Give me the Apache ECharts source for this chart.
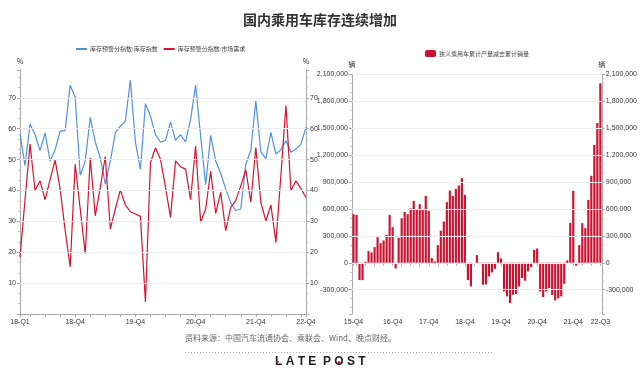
<!DOCTYPE html>
<html><head><meta charset="utf-8">
<script src="https://cdn.jsdelivr.net/npm/echarts@6/dist/echarts.min.js"></script>
<style>html,body{margin:0;padding:0;background:#fff}#c{width:640px;height:369px}</style>
</head><body><div id="c"></div>
<script>
// ---- Left chart data (monthly, 2018-01 .. 2022-10) ----
const leftMonths = [
 '2018-01','2018-02','2018-03','2018-04','2018-05','2018-06','2018-07','2018-08','2018-09','2018-10','2018-11','2018-12',
 '2019-01','2019-02','2019-03','2019-04','2019-05','2019-06','2019-07','2019-08','2019-09','2019-10','2019-11','2019-12',
 '2020-01','2020-02','2020-03','2020-04','2020-05','2020-06','2020-07','2020-08','2020-09','2020-10','2020-11','2020-12',
 '2021-01','2021-02','2021-03','2021-04','2021-05','2021-06','2021-07','2021-08','2021-09','2021-10','2021-11','2021-12',
 '2022-01','2022-02','2022-03','2022-04','2022-05','2022-06','2022-07','2022-08','2022-09','2022-10'];
const inventoryIndex = [
 58.4,48.0,61.4,58.1,52.9,58.6,49.5,53.2,59.2,59.4,74.1,70.2,
 44.9,49.5,63.7,55.7,50.5,42.1,49.5,58.6,60.8,62.4,75.7,55.7,
 46.8,68.1,64.1,58.1,55.6,56.2,62.1,56.2,58.1,55.7,63.0,74.1,
 57.6,41.9,57.8,49.6,45.5,40.5,36.0,33.5,34.0,48.4,53.0,69.0,
 52.5,50.3,58.8,51.8,53.2,56.1,52.4,53.4,55.0,60.5];
const demandIndex = [
 18.4,37.0,55.0,40.0,43.1,37.0,43.5,49.8,40.5,27.0,15.3,48.5,
 34.0,19.5,50.5,31.8,41.0,51.0,27.5,34.0,40.2,35.3,33.1,32.4,
 31.6,3.9,49.0,53.8,50.1,41.0,31.3,49.6,47.7,46.9,37.0,54.4,
 29.7,34.0,46.2,32.6,39.4,27.0,34.5,36.7,41.5,46.7,36.2,53.9,
 36.1,30.2,35.3,23.2,45.0,67.5,40.0,43.1,40.6,37.7];
const leftTickMonths = ['2018-01','2018-12','2019-12','2020-12','2021-12','2022-10'];
const leftTickLabels = ['18-Q1','18-Q4','19-Q4','20-Q4','21-Q4','22-Q4'];
const leftGridValues = [10,20,30,40,50,60,70];

// ---- Right chart data (monthly, 2015-11 .. 2022-09) ----
const rightMonths = [
 '2015-11','2015-12',
 '2016-01','2016-02','2016-03','2016-04','2016-05','2016-06','2016-07','2016-08','2016-09','2016-10','2016-11','2016-12',
 '2017-01','2017-02','2017-03','2017-04','2017-05','2017-06','2017-07','2017-08','2017-09','2017-10','2017-11','2017-12',
 '2018-01','2018-02','2018-03','2018-04','2018-05','2018-06','2018-07','2018-08','2018-09','2018-10','2018-11','2018-12',
 '2019-01','2019-02','2019-03','2019-04','2019-05','2019-06','2019-07','2019-08','2019-09','2019-10','2019-11','2019-12',
 '2020-01','2020-02','2020-03','2020-04','2020-05','2020-06','2020-07','2020-08','2020-09','2020-10','2020-11','2020-12',
 '2021-01','2021-02','2021-03','2021-04','2021-05','2021-06','2021-07','2021-08','2021-09','2021-10','2021-11','2021-12',
 '2022-01','2022-02','2022-03','2022-04','2022-05','2022-06','2022-07','2022-08','2022-09'];
const stockGap = [
 540000,533000,-193000,-193000,11000,130000,115000,174000,285000,218000,
 248000,311000,533000,396000,-63000,278000,496000,567000,541000,604000,
 689000,589000,652000,589000,744000,578000,52000,15000,196000,356000,
 459000,674000,804000,744000,822000,859000,941000,756000,-193000,-263000,
 0,85000,-15000,-244000,-241000,-152000,-107000,-67000,118000,48000,
 -319000,-374000,-448000,-356000,-348000,-263000,-170000,-200000,-96000,-48000,
 144000,159000,-319000,-381000,-319000,-281000,-359000,-419000,-396000,-374000,
 -233000,26000,444000,800000,-33000,196000,441000,385000,700000,967000,
 1311000,1555000,1996000];
const rightTickMonths = ['2015-11','2016-12','2017-12','2018-12','2019-12','2020-12','2021-12','2022-09'];
const rightTickLabels = ['15-Q4','16-Q4','17-Q4','18-Q4','19-Q4','20-Q4','21-Q4','22-Q3'];
const rightGridValues = [-300000,0,300000,600000,900000,1200000,1500000,1800000,2100000];

const seriesNames = ['库存预警分指数:库存指数','库存预警分指数:市场需求','狭义乘用车累计产量减去累计销量'];

const FONT = "'Liberation Sans','Noto Sans CJK SC',sans-serif";
const CJK = "'Noto Sans CJK SC','Liberation Sans',sans-serif";
const AX = '#aaa';
const LBL = '#333';

function qTick(months){
  return function(i, v){ const m = v.slice(5); return ['03','06','09','12'].includes(m) || months.includes(v); };
}
function xLabel(months, labels){
  return function(v){ const i = months.indexOf(v); return i >= 0 ? labels[i] : ''; };
}
function showLabel(months){ return function(i, v){ return months.includes(v); }; }

function yAxisCommon(gridIndex, pos, min, max, splitNumber, fmt, name, nameGap){
  return {
    type:'value', gridIndex, position:pos, min, max, splitNumber,
    name, nameLocation:'end', nameGap,
    nameTextStyle:{fontSize:7, color:LBL, fontFamily:CJK, align:'center'},
    axisLine:{show:true, lineStyle:{color:AX, width:1}},
    axisTick:{show:true, length:3, lineStyle:{color:AX}},
    minorTick:{show:true, splitNumber:3, length:2, lineStyle:{color:'#c4c4c4'}},
    splitLine:{show:false},
    axisLabel:{fontSize:7, color:LBL, fontFamily:FONT, margin:4, formatter:fmt}
  };
}

const chart = echarts.init(document.getElementById('c'), null, {renderer:'canvas'});
chart.setOption({
  animation:false,
  backgroundColor:'#fff',
  title:{text:'国内乘用车库存连续增加', left:'center', top:8,
    textStyle:{fontSize:14, fontWeight:'bold', color:'#333', fontFamily:CJK}},
  legend:[
    {data:[seriesNames[0], seriesNames[1]], left:71, top:41, icon:'rect', itemWidth:11, itemHeight:2, itemGap:6,
     textStyle:{fontSize:6, color:'#444', fontFamily:CJK, padding:[0,0,0,-2]}},
    {data:[seriesNames[2]], left:420, top:45, icon:'roundRect', itemWidth:11, itemHeight:7,
     textStyle:{fontSize:6, color:'#444', fontFamily:CJK, padding:[0,0,0,-2]}}
  ],
  grid:[
    {left:20, top:70, width:286, height:244},
    {left:352, top:74, width:251, height:240}
  ],
  xAxis:[
    {type:'category', gridIndex:0, data:leftMonths, boundaryGap:false,
     axisLine:{lineStyle:{color:AX}},
     axisTick:{show:true, length:3, interval:qTick(leftTickMonths), lineStyle:{color:AX}},
     axisLabel:{fontSize:7, color:LBL, fontFamily:FONT, margin:5, interval:showLabel(leftTickMonths),
       formatter:xLabel(leftTickMonths, leftTickLabels)}},
    {type:'category', gridIndex:1, data:rightMonths, boundaryGap:true,
     axisLine:{lineStyle:{color:AX}},
     axisTick:{show:true, length:3, alignWithLabel:true, interval:qTick(rightTickMonths), lineStyle:{color:AX}},
     axisLabel:{fontSize:7, color:LBL, fontFamily:FONT, margin:5, interval:showLabel(rightTickMonths),
       formatter:xLabel(rightTickMonths, rightTickLabels)}}
  ],
  yAxis:[
    yAxisCommon(0,'left',0,79,8, v => (v > 0 && v % 10 === 0) ? String(v) : '', '%', 5),
    yAxisCommon(0,'right',0,79,8, v => (v > 0 && v % 10 === 0) ? String(v) : '', '%', 5),
    yAxisCommon(1,'left',-570000,2100000,9, v => (v % 300000 === 0) ? v.toLocaleString('en-US') : '', '辆', 6),
    yAxisCommon(1,'right',-570000,2100000,9, v => (v % 300000 === 0) ? v.toLocaleString('en-US') : '', '辆', 6)
  ],
  series:[
    {name:seriesNames[0], type:'line', xAxisIndex:0, yAxisIndex:0, data:inventoryIndex,
     showSymbol:false, lineStyle:{color:'#4f92db', width:1.2}, itemStyle:{color:'#4f92db'},
     markLine:{silent:true, symbol:'none', label:{show:false},
       lineStyle:{color:'#ededed', type:'solid', width:1},
       data:leftGridValues.map(v => ({yAxis:v}))}},
    {name:seriesNames[1], type:'line', xAxisIndex:0, yAxisIndex:0, data:demandIndex,
     showSymbol:false, lineStyle:{color:'#d3132f', width:1.2}, itemStyle:{color:'#d3132f'}},
    {name:seriesNames[2], type:'bar', xAxisIndex:1, yAxisIndex:2, data:stockGap,
     barWidth:'72%', itemStyle:{color:'#cc1230'},
     markLine:{silent:true, symbol:'none', label:{show:false},
       lineStyle:{color:'#ededed', type:'solid', width:1},
       data:rightGridValues.map(v => ({yAxis:v}))}}
  ],
  graphic:[
    {type:'text', left:185, top:334, style:{text:'资料来源：中国汽车流通协会、乘联会、Wind、晚点财经。', fontSize:8, fill:'#666', fontFamily:CJK}},
    {type:'line', shape:{x1:185, y1:352.5, x2:492, y2:352.5}, style:{stroke:'#aaa', lineWidth:1, lineDash:[1,2]}},
    {type:'text', left:275, top:356, style:{text:'L A T E  P O S T', fontSize:12, fontWeight:'bold', fill:'#222', fontFamily:FONT}},
    {type:'circle', shape:{cx:339, cy:362.5, r:1.5}, style:{fill:'#d3132f'}},
    {type:'rect', shape:{x:276, y:361, width:3, height:1.3}, style:{fill:'#d3132f'}}
  ]
});
</script></body></html>
